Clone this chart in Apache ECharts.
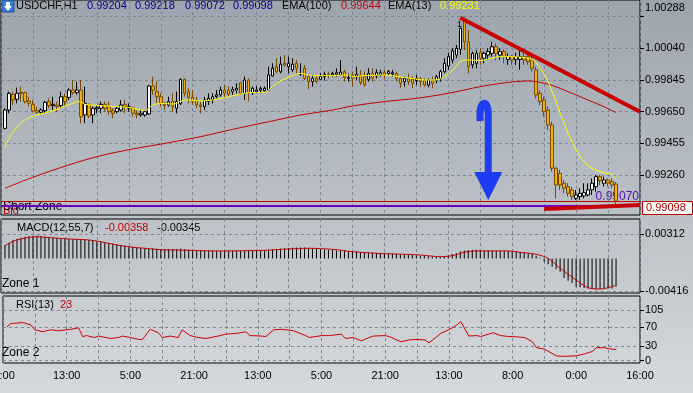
<!DOCTYPE html>
<html><head><meta charset="utf-8">
<script src="https://cdn.jsdelivr.net/npm/echarts@6/dist/echarts.min.js"></script>
<style>html,body{margin:0;padding:0;background:#c0c5ca;}#c{width:693px;height:393px;}</style>
</head><body><div id="c"></div>
<script>
// ---------- data ----------
const xTickLabels = ['21:00','13:00','5:00','21:00','13:00','5:00','21:00','13:00','8:00','0:00','16:00'];
const priceLabels = [1.00288, 1.00040, 0.99845, 0.99650, 0.99455, 0.99260];
const priceGrid = [1.00235, 1.00040, 0.99845, 0.99650, 0.99455, 0.99260];
const macdLabels = [0.00312, -0.00416];
const rsiLabels = [105, 70, 30, 0];
// candles [open, close, low, high], bar 1..154
const candles = [
[0.99547,0.99660,0.99541,0.99671],[0.99660,0.99763,0.99640,0.99773],[0.99757,0.99722,0.99691,0.99773],[0.99726,0.99763,0.99701,0.99798],
[0.99769,0.99763,0.99712,0.99804],[0.99767,0.99712,0.99701,0.99773],[0.99716,0.99701,0.99681,0.99742],[0.99695,0.99654,0.99644,0.99722],
[0.99656,0.99646,0.99636,0.99681],[0.99646,0.99660,0.99636,0.99671],[0.99656,0.99708,0.99640,0.99716],[0.99712,0.99687,0.99671,0.99732],
[0.99687,0.99695,0.99660,0.99742],[0.99691,0.99681,0.99650,0.99712],[0.99687,0.99742,0.99671,0.99773],[0.99742,0.99712,0.99681,0.99763],
[0.99738,0.99783,0.99722,0.99794],[0.99783,0.99767,0.99753,0.99845],[0.99767,0.99783,0.99753,0.99835],[0.99783,0.99619,0.99579,0.99845],
[0.99630,0.99701,0.99579,0.99804],[0.99695,0.99623,0.99609,0.99701],[0.99630,0.99671,0.99579,0.99681],[0.99667,0.99675,0.99640,0.99691],
[0.99671,0.99695,0.99640,0.99712],[0.99695,0.99671,0.99650,0.99712],[0.99681,0.99650,0.99630,0.99712],[0.99656,0.99640,0.99609,0.99671],
[0.99650,0.99671,0.99640,0.99681],[0.99660,0.99691,0.99650,0.99722],[0.99695,0.99681,0.99640,0.99722],[0.99671,0.99681,0.99650,0.99701],
[0.99671,0.99640,0.99619,0.99681],[0.99640,0.99630,0.99609,0.99660],[0.99630,0.99640,0.99619,0.99660],[0.99630,0.99650,0.99619,0.99660],
[0.99636,0.99808,0.99630,0.99814],[0.99808,0.99783,0.99753,0.99866],[0.99773,0.99742,0.99701,0.99835],[0.99742,0.99701,0.99681,0.99763],
[0.99695,0.99687,0.99660,0.99712],[0.99691,0.99712,0.99681,0.99742],[0.99712,0.99681,0.99650,0.99763],[0.99671,0.99712,0.99640,0.99773],
[0.99701,0.99849,0.99691,0.99855],[0.99849,0.99763,0.99742,0.99855],[0.99773,0.99738,0.99701,0.99794],[0.99738,0.99712,0.99691,0.99783],
[0.99722,0.99691,0.99671,0.99742],[0.99691,0.99681,0.99640,0.99712],[0.99681,0.99722,0.99660,0.99742],[0.99712,0.99732,0.99691,0.99763],
[0.99726,0.99742,0.99701,0.99763],[0.99742,0.99753,0.99732,0.99783],[0.99753,0.99783,0.99742,0.99804],[0.99783,0.99763,0.99742,0.99814],
[0.99783,0.99757,0.99742,0.99804],[0.99773,0.99788,0.99753,0.99804],[0.99783,0.99794,0.99763,0.99825],[0.99829,0.99763,0.99753,0.99835],
[0.99763,0.99845,0.99722,0.99866],[0.99845,0.99767,0.99712,0.99855],[0.99767,0.99794,0.99753,0.99804],[0.99773,0.99783,0.99763,0.99808],
[0.99783,0.99794,0.99763,0.99804],[0.99779,0.99794,0.99773,0.99804],[0.99783,0.99876,0.99779,0.99927],[0.99870,0.99917,0.99866,0.99948],
[0.99927,0.99896,0.99886,0.99979],[0.99896,0.99942,0.99886,0.99989],[0.99948,0.99937,0.99927,0.99999],[0.99927,0.99948,0.99886,0.99989],
[0.99907,0.99942,0.99896,0.99979],[0.99948,0.99917,0.99886,0.99968],[0.99880,0.99886,0.99870,0.99948],[0.99917,0.99855,0.99845,0.99937],
[0.99866,0.99835,0.99788,0.99876],[0.99835,0.99855,0.99804,0.99876],[0.99855,0.99835,0.99825,0.99870],[0.99849,0.99866,0.99845,0.99886],
[0.99866,0.99880,0.99841,0.99896],[0.99878,0.99874,0.99855,0.99896],[0.99876,0.99886,0.99866,0.99896],[0.99880,0.99890,0.99866,0.99917],
[0.99876,0.99894,0.99870,0.99968],[0.99896,0.99859,0.99835,0.99907],[0.99855,0.99859,0.99835,0.99886],[0.99876,0.99855,0.99804,0.99897],
[0.99866,0.99880,0.99845,0.99927],[0.99876,0.99829,0.99814,0.99907],[0.99866,0.99814,0.99804,0.99897],[0.99849,0.99886,0.99835,0.99917],
[0.99886,0.99855,0.99835,0.99917],[0.99870,0.99892,0.99855,0.99911],[0.99876,0.99890,0.99866,0.99907],[0.99890,0.99876,0.99855,0.99907],
[0.99886,0.99897,0.99876,0.99907],[0.99882,0.99890,0.99866,0.99907],[0.99886,0.99855,0.99835,0.99897],[0.99855,0.99825,0.99794,0.99866],
[0.99835,0.99855,0.99804,0.99866],[0.99855,0.99835,0.99814,0.99886],[0.99851,0.99825,0.99794,0.99866],[0.99841,0.99855,0.99814,0.99876],
[0.99851,0.99835,0.99804,0.99866],[0.99841,0.99814,0.99804,0.99855],[0.99814,0.99845,0.99800,0.99855],[0.99845,0.99825,0.99794,0.99866],
[0.99841,0.99866,0.99825,0.99876],[0.99855,0.99897,0.99835,0.99907],[0.99897,0.99948,0.99886,0.99979],[0.99931,0.99989,0.99907,1.00013],
[0.99968,1.00024,0.99948,1.00040],[0.99999,1.00040,0.99979,1.00061],[1.00034,1.00163,0.99999,1.00170],[1.00215,1.00081,1.00030,1.00219],
[1.00081,0.99927,0.99886,1.00153],[0.99938,1.00009,0.99917,1.00020],[0.99948,1.00009,0.99917,1.00030],[1.00013,0.99979,0.99938,1.00040],
[0.99979,1.00009,0.99948,1.00020],[0.99999,1.00020,0.99968,1.00040],[1.00009,1.00050,0.99989,1.00081],[1.00050,1.00009,0.99968,1.00071],
[0.99999,1.00020,0.99968,1.00040],[1.00020,0.99989,0.99948,1.00034],[0.99972,0.99989,0.99938,1.00009],[0.99989,0.99968,0.99938,0.99999],
[0.99972,0.99989,0.99938,1.00013],[0.99972,0.99989,0.99907,1.00030],[0.99989,0.99968,0.99938,1.00020],[0.99989,0.99958,0.99938,1.00009],
[0.99968,0.99917,0.99897,0.99989],[0.99907,0.99753,0.99732,0.99927],[0.99763,0.99712,0.99691,0.99783],[0.99722,0.99650,0.99619,0.99742],
[0.99660,0.99568,0.99537,0.99681],[0.99568,0.99301,0.99280,0.99588],[0.99301,0.99198,0.99116,0.99311],[0.99270,0.99198,0.99168,0.99291],
[0.99209,0.99178,0.99147,0.99229],[0.99188,0.99147,0.99127,0.99209],[0.99168,0.99127,0.99106,0.99188],[0.99116,0.99137,0.99106,0.99168],
[0.99127,0.99147,0.99106,0.99178],[0.99131,0.99151,0.99116,0.99209],[0.99137,0.99168,0.99127,0.99209],[0.99168,0.99209,0.99137,0.99239],
[0.99188,0.99250,0.99157,0.99260],[0.99250,0.99225,0.99198,0.99260],[0.99209,0.99229,0.99188,0.99250],[0.99229,0.99209,0.99188,0.99239],
[0.99219,0.99198,0.99178,0.99239],[0.99204,0.99098,0.99072,0.99218]
];
const ema13 = [[1,0.99424],[2,0.99486],[4,0.99553],[6,0.99599],[8,0.99623],[10,0.99636],[12,0.99648],[14,0.99664],[16,0.99685],[18,0.99701],
[19,0.99712],[20,0.99710],[21,0.99695],[23,0.99691],[26,0.99685],[29,0.99681],[32,0.99676],[35,0.99660],[36,0.99656],[37,0.99671],[38,0.99691],
[40,0.99701],[43,0.99697],[44,0.99701],[45,0.99716],[47,0.99722],[50,0.99716],[53,0.99722],[56,0.99736],[59,0.99753],[62,0.99767],[66,0.99769],
[67,0.99783],[69,0.99825],[71,0.99851],[73,0.99872],[75,0.99886],[76,0.99882],[78,0.99872],[82,0.99872],[87,0.99876],[88,0.99866],[90,0.99870],
[96,0.99876],[100,0.99864],[103,0.99855],[106,0.99845],[109,0.99845],[111,0.99866],[113,0.99903],[114,0.99931],[115,0.99958],[116,0.99968],
[118,0.99968],[120,0.99964],[122,0.99974],[125,0.99989],[128,0.99989],[131,0.99983],[133,0.99972],[134,0.99952],[135,0.99917],[136,0.99882],
[137,0.99835],[138,0.99773],[139,0.99712],[140,0.99640],[141,0.99578],[142,0.99517],[143,0.99465],[144,0.99414],[145,0.99373],[146,0.99342],
[147,0.99317],[148,0.99301],[150,0.99280],[152,0.99270],[153,0.99264],[154,0.99231]];
const ema100 = [[1,0.99178],[8,0.99246],[17,0.99322],[25,0.99379],[33,0.99420],[42,0.99459],[50,0.99496],[58,0.99541],[67,0.99588],[75,0.99629],
[83,0.99660],[88,0.99685],[96,0.99712],[104,0.99732],[112,0.99763],[120,0.99804],[124,0.99820],[128,0.99833],[132,0.99839],[134,0.99835],
[138,0.99812],[142,0.99773],[146,0.99732],[150,0.99691],[154,0.99644]];
const macdHist = [0.00171,0.00200,0.00235,0.00250,0.00265,0.00277,0.00285,0.00290,0.00290,0.00285,0.00277,0.00272,0.00266,0.00261,0.00258,
0.00254,0.00250,0.00248,0.00248,0.00245,0.00238,0.00235,0.00225,0.00218,0.00210,0.00203,0.00197,0.00190,0.00180,0.00170,0.00162,0.00155,
0.00148,0.00140,0.00133,0.00128,0.00130,0.00128,0.00122,0.00120,0.00118,0.00120,0.00120,0.00120,0.00125,0.00120,0.00114,0.00110,0.00108,
0.00107,0.00104,0.00100,0.00098,0.00096,0.00095,0.00094,0.00094,0.00095,0.00094,0.00095,0.00095,0.00098,0.00100,0.00100,0.00103,0.00107,
0.00112,0.00118,0.00120,0.00125,0.00130,0.00134,0.00137,0.00140,0.00140,0.00138,0.00133,0.00128,0.00124,0.00120,0.00115,0.00110,0.00106,
0.00102,0.00098,0.00094,0.00090,0.00086,0.00084,0.00080,0.00076,0.00074,0.00071,0.00069,0.00067,0.00065,0.00063,0.00060,0.00057,0.00053,
0.00050,0.00046,0.00042,0.00038,0.00034,0.00031,0.00028,0.00025,0.00023,0.00022,0.00028,0.00040,0.00055,0.00069,0.00090,0.00100,0.00107,
0.00110,0.00110,0.00106,0.00102,0.00100,0.00098,0.00096,0.00096,0.00095,0.00095,0.00092,0.00088,0.00082,0.00075,0.00066,0.00057,0.00035,
0.00009,-0.00042,-0.00075,-0.00106,-0.00140,-0.00170,-0.00250,-0.00285,-0.00314,-0.00361,-0.00370,-0.00378,-0.00385,-0.00391,-0.00393,
-0.00392,-0.00390,-0.00388,-0.00383,-0.00358];
const macdSignal = [[1,0.00162],[4,0.00235],[9,0.00277],[11,0.00270],[17,0.00248],[22,0.00235],[25,0.00213],[29,0.00171],[33,0.00142],
[36,0.00129],[40,0.00111],[44,0.00107],[50,0.00098],[55,0.00095],[66,0.00103],[72,0.00120],[77,0.00129],[83,0.00116],[88,0.00086],
[94,0.00065],[99,0.00056],[105,0.00043],[110,0.00022],[113,0.00034],[116,0.00078],[119,0.00095],[127,0.00095],[130,0.00078],[134,0.00052],
[137,0.00001],[140,-0.00126],[144,-0.00276],[147,-0.00374],[150,-0.00391],[154,-0.00345]];
const rsi = [[1,70],[2,77],[5,79],[7,74],[8,64],[10,60],[12,64],[14,62],[17,65],[19,68],[20,50],[21,52],[23,48],[24,51],[27,46],[29,48],
[30,51],[32,48],[34,44],[35,44],[37,65],[39,58],[40,48],[42,51],[44,48],[45,64],[47,52],[49,48],[51,46],[54,51],[56,55],[59,57],[61,60],
[62,52],[65,51],[66,50],[68,64],[70,65],[73,62],[76,52],[77,48],[80,52],[82,52],[85,55],[86,46],[88,48],[90,41],[92,48],[93,51],[96,52],
[97,50],[100,39],[102,43],[104,44],[106,43],[107,37],[109,50],[110,57],[112,64],[114,74],[115,81],[117,51],[119,52],[120,50],[122,55],
[123,58],[125,52],[127,50],[128,50],[131,48],[133,39],[134,27],[136,24],[139,10],[141,9],[144,10],[146,14],[148,19],[149,27],[151,27],
[152,25],[154,23]];
const trendLine = [[115, 1.00228], [160, 0.99650]];
const supportLine = [[136, 0.99050], [160, 0.99075]];
const bidPrice = 0.99098;
const shortZone = 0.99070;
const arrowData = [[122, 0.99703, 0.99106]];

// ---------- chart ----------
const N = 161;
const cats = Array.from({length: N}, (_, i) => String(i));
const FONT = 'Liberation Sans';
const gridLine = {color: '#7a8696', type: [3, 3], width: 1};
const last = candles[candles.length - 1];
const fmt5 = v => v.toFixed(5);

function xAxis(g) {
  return {
    type: 'category', gridIndex: g, data: cats, boundaryGap: false,
    axisLine: {show: false}, axisTick: {show: false},
    // first label (cut by the left edge in the original) is drawn as graphic text below
    axisLabel: {show: g === 2, interval: 15, formatter: (v, i) => (i === 0 ? '' : (xTickLabels[i / 16] || '')),
      color: '#000', fontSize: 11, fontFamily: FONT, margin: 7, showMinLabel: true, showMaxLabel: true},
    splitLine: {show: true, interval: 7, lineStyle: gridLine}
  };
}
function yAxis(g, min, max, ticks, labels, formatter) {
  return {
    type: 'value', gridIndex: g, position: 'right', min: min, max: max, scale: true,
    axisLine: {show: false},
    axisTick: {show: true, inside: false, length: 4, customValues: ticks, lineStyle: {color: '#000'}},
    axisLabel: {customValues: labels, formatter: formatter, color: '#000', fontSize: 11, fontFamily: FONT, margin: 5},
    splitLine: {show: true, lineStyle: gridLine}
  };
}
function hLine(v, color, width) {
  return [{coord: [0, v], lineStyle: {color: color, width: width, type: 'solid'}, label: {show: false}}, {coord: [N - 1, v]}];
}

const chart = echarts.init(document.getElementById('c'), null, {width: 693, height: 393});
const option = {
  animation: false,
  backgroundColor: new echarts.graphic.LinearGradient(0, 0, 0, 1, [
    {offset: 0, color: '#9ca4ad'}, {offset: 0.6, color: '#bfc4ca'}, {offset: 1, color: '#d6d9dc'}]),
  textStyle: {fontFamily: FONT},
  grid: [
    {left: 1, top: 0, width: 639, height: 215, show: true, borderColor: '#000', borderWidth: 1, backgroundColor: 'transparent'},
    {left: 1, top: 219, width: 639, height: 74, show: true, borderColor: '#000', borderWidth: 1, backgroundColor: 'transparent'},
    {left: 1, top: 296, width: 639, height: 67, show: true, borderColor: '#000', borderWidth: 1, backgroundColor: 'transparent'}
  ],
  xAxis: [xAxis(0), xAxis(1), xAxis(2)],
  yAxis: [
    yAxis(0, 0.990134, 1.003378, priceGrid, priceLabels, fmt5),
    yAxis(1, -0.00442, 0.00503, macdLabels, macdLabels, fmt5),
    yAxis(2, -4.8, 134, rsiLabels, rsiLabels, v => String(v))
  ],
  series: [
    {
      type: 'candlestick', xAxisIndex: 0, yAxisIndex: 0, barWidth: 3,
      data: candles.map((d, k) => [k + 1, d[0], d[1], d[2], d[3]]),
      encode: {x: 0, y: [1, 2, 3, 4]},
      itemStyle: {color: '#ffffff', color0: '#f2b00a', borderColor: '#000000', borderColor0: '#7a4a00', borderWidth: 1}
    },
    {
      type: 'line', xAxisIndex: 0, yAxisIndex: 0, data: ema100, showSymbol: false, smooth: 0.3,
      lineStyle: {color: '#c00000', width: 1}, z: 3
    },
    {
      type: 'line', xAxisIndex: 0, yAxisIndex: 0, data: ema13, showSymbol: false, smooth: 0.3,
      lineStyle: {color: '#ffff00', width: 1}, z: 4,
      markLine: {
        silent: true, symbol: 'none', animation: false,
        data: [
          hLine(bidPrice, '#c00000', 1),
          hLine(shortZone, '#6a00c8', 2),
          [{coord: trendLine[0], lineStyle: {color: '#c80000', width: 4, type: 'solid'}, label: {show: false}}, {coord: trendLine[1]}],
          [{coord: supportLine[0], lineStyle: {color: '#c80000', width: 4, type: 'solid'}, label: {show: false}}, {coord: supportLine[1]}]
        ]
      }
    },
    {
      type: 'custom', xAxisIndex: 0, yAxisIndex: 0, data: arrowData, z: 6, silent: true,
      renderItem: (params, api) => {
        const top = api.coord([api.value(0), api.value(1)]);
        const tip = api.coord([api.value(0), api.value(2)]);
        const x = top[0], col = '#1e3cf2';
        return {type: 'group', children: [
          {type: 'bezierCurve', shape: {x1: x - 8, y1: top[1] + 18, cpx1: x - 10, cpy1: top[1] - 4, cpx2: x, cpy2: top[1] - 4, x2: x, y2: top[1] + 10},
            style: {stroke: col, lineWidth: 7, fill: null}},
          {type: 'line', shape: {x1: x, y1: top[1] + 8, x2: x, y2: tip[1] - 26}, style: {stroke: col, lineWidth: 7}},
          {type: 'polygon', shape: {points: [[x - 14, tip[1] - 28], [x + 14, tip[1] - 28], [x, tip[1]]]}, style: {fill: col}}
        ]};
      }
    },
    {
      type: 'bar', xAxisIndex: 1, yAxisIndex: 1, barWidth: 1,
      data: macdHist.map((v, k) => [k + 1, v]), itemStyle: {color: '#000'}
    },
    {
      type: 'line', xAxisIndex: 1, yAxisIndex: 1, data: macdSignal, showSymbol: false, smooth: 0.3,
      lineStyle: {color: '#c00000', width: 1}
    },
    {
      type: 'line', xAxisIndex: 2, yAxisIndex: 2, data: rsi, showSymbol: false,
      lineStyle: {color: '#cc0000', width: 1}
    }
  ],
  graphic: [
    {type: 'rect', shape: {x: 2, y: 0, width: 12, height: 12}, style: {fill: '#3a7bd5', stroke: '#1a4a9a'}},
    {type: 'polygon', shape: {points: [[6, 2], [10, 2], [10, 6], [12, 6], [8, 11], [4, 6], [6, 6]]}, style: {fill: '#ffffff'}},
    {type: 'text', x: 16, y: 6, style: {text: 'USDCHF,H1', fill: '#000', font: '11px ' + FONT, verticalAlign: 'middle'}},
    {type: 'text', x: 87, y: 6, style: {text: fmt5(last[0]), fill: '#00008b', font: '11px ' + FONT, verticalAlign: 'middle'}},
    {type: 'text', x: 135, y: 6, style: {text: fmt5(last[3]), fill: '#00008b', font: '11px ' + FONT, verticalAlign: 'middle'}},
    {type: 'text', x: 185, y: 6, style: {text: fmt5(last[2]), fill: '#00008b', font: '11px ' + FONT, verticalAlign: 'middle'}},
    {type: 'text', x: 233, y: 6, style: {text: fmt5(last[1]), fill: '#00008b', font: '11px ' + FONT, verticalAlign: 'middle'}},
    {type: 'text', x: 282, y: 6, style: {text: 'EMA(100)', fill: '#000', font: '11px ' + FONT, verticalAlign: 'middle'}},
    {type: 'text', x: 341, y: 6, style: {text: fmt5(ema100[ema100.length - 1][1]), fill: '#c00000', font: '11px ' + FONT, verticalAlign: 'middle'}},
    {type: 'text', x: 388, y: 6, style: {text: 'EMA(13)', fill: '#000', font: '11px ' + FONT, verticalAlign: 'middle'}},
    {type: 'text', x: 440, y: 6, style: {text: fmt5(ema13[ema13.length - 1][1]), fill: '#ffff00', font: '11px ' + FONT, verticalAlign: 'middle'}},
    {type: 'text', x: 457, y: 25, style: {text: '1', fill: '#000', font: '9px ' + FONT, verticalAlign: 'middle'}},
    {type: 'text', x: 3, y: 211, style: {text: 'Bid', fill: '#c00000', font: '11px ' + FONT, verticalAlign: 'middle'}},
    {type: 'text', x: 3, y: 207, style: {text: 'Short Zone', fill: '#000', font: '12px ' + FONT, verticalAlign: 'middle'}},
    {type: 'text', x: 639, y: 197, style: {text: fmt5(shortZone), fill: '#5a0fb0', font: '12px ' + FONT, verticalAlign: 'middle', align: 'right'}},
    {type: 'rect', shape: {x: 642.5, y: 201.5, width: 50, height: 13}, style: {fill: '#ffffff', stroke: '#c00000', lineWidth: 1}},
    {type: 'text', x: 646, y: 208, style: {text: fmt5(bidPrice), fill: '#c00000', font: '11px ' + FONT, verticalAlign: 'middle'}},
    {type: 'text', x: 17, y: 228, style: {text: 'MACD(12,55,7)', fill: '#000', font: '11px ' + FONT, verticalAlign: 'middle'}},
    {type: 'text', x: 105, y: 228, style: {text: fmt5(macdHist[macdHist.length - 1]), fill: '#c00000', font: '11px ' + FONT, verticalAlign: 'middle'}},
    {type: 'text', x: 157, y: 228, style: {text: fmt5(macdSignal[macdSignal.length - 1][1]), fill: '#000', font: '11px ' + FONT, verticalAlign: 'middle'}},
    {type: 'text', x: 2, y: 284, style: {text: 'Zone 1', fill: '#000', font: '12px ' + FONT, verticalAlign: 'middle'}},
    {type: 'text', x: 16, y: 305, style: {text: 'RSI(13)', fill: '#000', font: '11px ' + FONT, verticalAlign: 'middle'}},
    {type: 'text', x: 60, y: 305, style: {text: String(rsi[rsi.length - 1][1]), fill: '#c00000', font: '11px ' + FONT, verticalAlign: 'middle'}},
    {type: 'text', x: 2, y: 353, style: {text: 'Zone 2', fill: '#000', font: '12px ' + FONT, verticalAlign: 'middle'}},
    {type: 'text', x: 1, y: 376, style: {text: xTickLabels[0], fill: '#000', font: '11px ' + FONT, verticalAlign: 'middle', align: 'center'}}
  ]
};
chart.setOption(option);
</script>
</body></html>
